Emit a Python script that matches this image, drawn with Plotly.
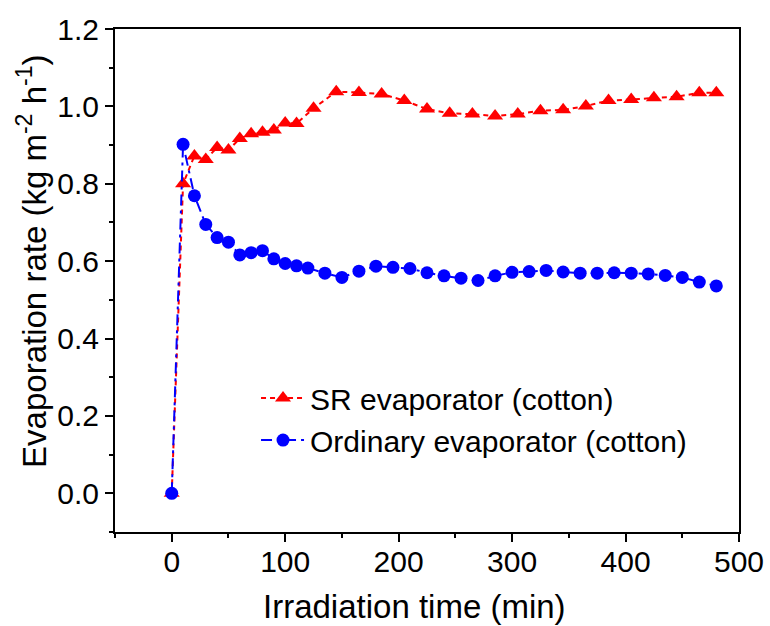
import plotly.graph_objects as go

# SR evaporator (cotton): irradiation time (min) and evaporation rate (kg m-2 h-1)
sr_time = [0, 10, 20, 30, 40, 50, 60, 70, 80, 90, 100, 110, 125, 145, 165, 185,
           205, 225, 245, 265, 285, 305, 325, 345, 365, 385, 405, 425, 445, 465, 480]
sr_rate = [0.0, 0.80, 0.872, 0.863, 0.894, 0.887, 0.917, 0.929, 0.933, 0.939, 0.957,
           0.956, 0.995, 1.038, 1.036, 1.032, 1.015, 0.993, 0.982, 0.980, 0.975, 0.980,
           0.989, 0.991, 1.001, 1.015, 1.018, 1.022, 1.025, 1.035, 1.035]

# Ordinary evaporator (cotton)
ord_time = [0, 10, 20, 30, 40, 50, 60, 70, 80, 90, 100, 110, 120, 135, 150, 165, 180,
            195, 210, 225, 240, 255, 270, 285, 300, 315, 330, 345, 360, 375, 390, 405,
            420, 435, 450, 465, 480]
ord_rate = [0.0, 0.902, 0.769, 0.695, 0.661, 0.649, 0.616, 0.622, 0.627, 0.606, 0.594,
            0.588, 0.582, 0.569, 0.558, 0.574, 0.587, 0.584, 0.581, 0.570, 0.562, 0.556,
            0.550, 0.562, 0.571, 0.573, 0.576, 0.572, 0.569, 0.569, 0.570, 0.569, 0.567,
            0.563, 0.558, 0.546, 0.536]

x_ticks = [0, 100, 200, 300, 400, 500]
y_ticks = [0.0, 0.2, 0.4, 0.6, 0.8, 1.0, 1.2]

x_title = "Irradiation time (min)"
y_title = "Evaporation rate (kg m<sup>-2</sup> h<sup>-1</sup>)"

FONT = "Arial, Liberation Sans, sans-serif"

fig = go.Figure()
fig.add_trace(go.Scatter(
    x=sr_time, y=sr_rate, mode="lines+markers", name="SR evaporator (cotton)",
    line=dict(color="#ff0000", width=2, dash="5px,4px"),
    marker=dict(symbol="triangle-up", size=14, color="#ff0000"),
))
fig.add_trace(go.Scatter(
    x=ord_time, y=ord_rate, mode="lines+markers", name="Ordinary evaporator (cotton)",
    line=dict(color="#0000ff", width=2, dash="11px,5px,3px,5px"),
    marker=dict(symbol="circle", size=13, color="#0000ff"),
))

axis_common = dict(
    showline=True, linecolor="black", linewidth=2, mirror=True,
    ticks="outside", ticklen=8, tickwidth=2, tickcolor="black",
    showgrid=False, zeroline=False, automargin=False,
    tickfont=dict(family=FONT, size=30, color="black"),
)

fig.update_xaxes(
    range=[-50, 500], tickvals=x_ticks, ticktext=[str(v) for v in x_ticks],
    minor=dict(ticks="outside", ticklen=4, tickwidth=2, tickcolor="black", dtick=50, tick0=0),
    ticklabelstandoff=-6,
    **axis_common,
)
fig.update_yaxes(
    range=[-0.1, 1.2], tickvals=y_ticks, ticktext=[f"{v:.1f}" for v in y_ticks],
    minor=dict(ticks="outside", ticklen=4, tickwidth=2, tickcolor="black", dtick=0.1, tick0=0),
    **axis_common,
)

# Axis titles placed as annotations so their position can be set freely
fig.add_annotation(text=x_title, xref="paper", yref="paper", x=0.48, y=-0.149,
                   xanchor="center", yanchor="middle", showarrow=False,
                   font=dict(family=FONT, size=33, color="black"))
fig.add_annotation(text=y_title, xref="paper", yref="paper", x=-0.133, y=0.537,
                   xanchor="center", yanchor="middle", textangle=-90, showarrow=False,
                   font=dict(family=FONT, size=33, color="black"))

fig.update_layout(
    width=770, height=626,
    margin=dict(l=115, r=31, t=29, b=94),
    paper_bgcolor="white", plot_bgcolor="white",
    showlegend=True,
    legend=dict(x=0.226, y=0.318, xanchor="left", yanchor="top",
                bgcolor="rgba(0,0,0,0)", font=dict(family=FONT, size=30, color="black"),
                tracegroupgap=0, itemwidth=44),
)

fig.write_html("out.html")
